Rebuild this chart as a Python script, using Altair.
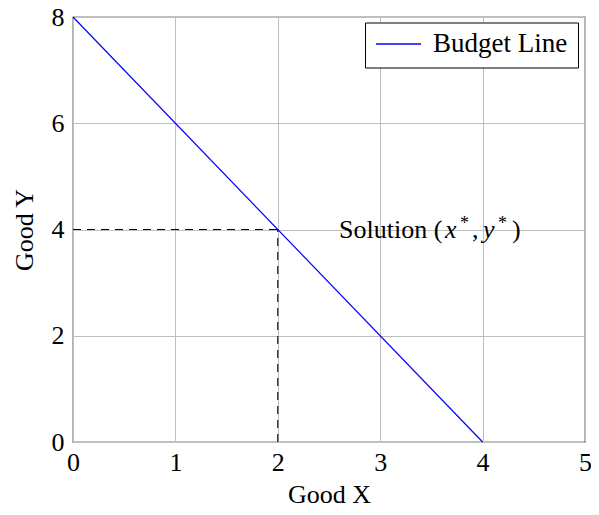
import altair as alt
import pandas as pd

# Data
budget_x = [0, 4]
budget_y = [8, 0]
series_name = ["Budget Line", "Budget Line"]
x_ticks = [0, 1, 2, 3, 4, 5]
y_ticks = [0, 2, 4, 6, 8]
solution_x = [2]
solution_y = [4]
label_x = [2.5]
label_y = [4]

FONT = "Liberation Serif"
FS = 26

budget = pd.DataFrame({"x": budget_x, "y": budget_y, "series": series_name})
sol = pd.DataFrame({"x": solution_x, "y": solution_y, "x0": [0], "y0": [0]})
lab = pd.DataFrame({"x": label_x, "y": label_y})

xscale = alt.Scale(domain=[0, 5], nice=False, zero=False)
yscale = alt.Scale(domain=[0, 8], nice=False, zero=False)

xaxis = alt.Axis(values=x_ticks, title="Good X", grid=True, ticks=False, domain=False,
                 labelPadding=7, titlePadding=6, format="d", labelFlush=False)
yaxis = alt.Axis(values=y_ticks, title="Good Y", grid=True, ticks=False, domain=False,
                 labelPadding=9, titlePadding=14, format="d", labelFlush=False)

line = alt.Chart(budget).mark_line(strokeWidth=1.2, color="#0000ff").encode(
    x=alt.X("x:Q", scale=xscale, axis=xaxis),
    y=alt.Y("y:Q", scale=yscale, axis=yaxis),
    color=alt.Color("series:N", scale=alt.Scale(domain=["Budget Line"], range=["#0000ff"]),
                    legend=alt.Legend(title=None, orient="none", legendX=292, legendY=5.5,
                                      symbolType="stroke", symbolSize=2025,
                                      symbolStrokeWidth=1.5, symbolStrokeColor="#0000ff",
                                      symbolOpacity=1,
                                      labelFont=FONT,
                                      labelFontSize=27, labelColor="black",
                                      strokeColor="black", fillColor="white",
                                      padding=10, labelOffset=11, cornerRadius=0,
                                      clipHeight=23)),
)

hdash = alt.Chart(sol).mark_rule(color="black", strokeDash=[8, 6], strokeWidth=1.1).encode(
    x=alt.X("x0:Q", scale=xscale), x2="x:Q", y=alt.Y("y:Q", scale=yscale)
)
vdash = alt.Chart(sol).mark_rule(color="black", strokeDash=[8, 6], strokeWidth=1.1).encode(
    x=alt.X("x:Q", scale=xscale), y=alt.Y("y0:Q", scale=yscale), y2="y:Q"
)

def piece(text, dx, italic=False, size=FS, dy=0):
    kw = dict(text=text, dx=dx, dy=dy, align="left", baseline="middle", font=FONT,
              fontSize=size, color="black")
    if italic:
        kw["fontStyle"] = "italic"
    return alt.Chart(lab).mark_text(**kw).encode(
        x=alt.X("x:Q", scale=xscale), y=alt.Y("y:Q", scale=yscale)
    )

texts = [
    piece("Solution (", 10),
    piece("x", 116, italic=True),
    piece("*", 131, size=18, dy=-6),
    piece(",", 143),
    piece("y", 154, italic=True),
    piece("*", 169, size=18, dy=-6),
    piece(")", 183),
]

chart = alt.layer(line, hdash, vdash, *texts).properties(
    width=512, height=425,
    background="white",
    autosize=alt.AutoSizeParams(type="none"),
    padding={"left": 65, "top": 9, "right": 6, "bottom": 65},
).configure_view(
    stroke="black", strokeWidth=1.2
).configure_axis(
    labelFont=FONT, labelFontSize=FS, labelColor="black",
    titleFont=FONT, titleFontSize=FS, titleColor="black", titleFontWeight="normal",
    gridColor="#bfbfbf", gridWidth=1, gridOpacity=1,
)

chart.save("out.html", embed_options={"renderer": "svg", "actions": False})
